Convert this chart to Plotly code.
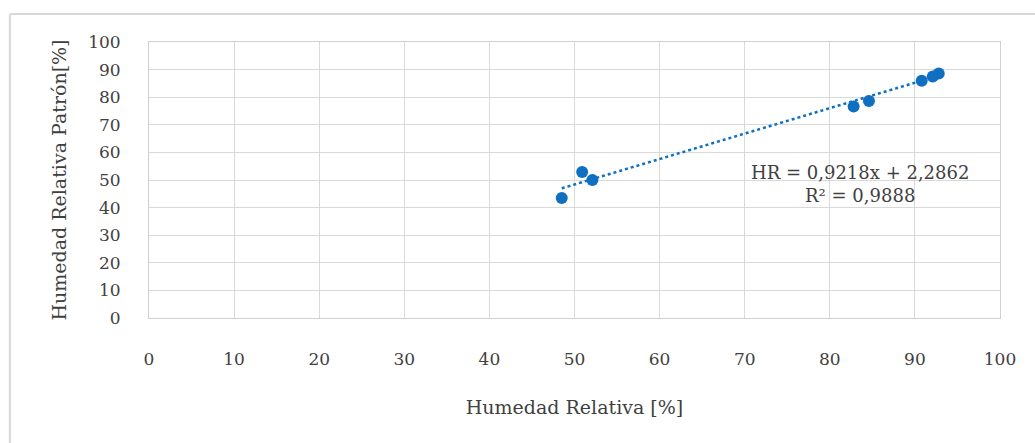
import plotly.graph_objects as go

x_hr = [48.5, 50.9, 52.1, 82.8, 84.6, 90.8, 92.1, 92.8]
y_patron = [43.5, 52.9, 50.0, 76.6, 78.6, 86.0, 87.5, 88.6]
slope = 0.9218
intercept = 2.2862
r2 = 0.9888
ticks = [0, 10, 20, 30, 40, 50, 60, 70, 80, 90, 100]

serif = "DejaVu Serif, serif"
blue = "#0f6fc0"
txt = "#3f3f3f"

fig = go.Figure()
xmin, xmax = min(x_hr), max(x_hr)
fig.add_trace(go.Scatter(
    x=[xmin, xmax], y=[slope * xmin + intercept, slope * xmax + intercept],
    mode="lines", line=dict(color=blue, width=2.5, dash="dot"),
    showlegend=False, hoverinfo="skip"))
fig.add_trace(go.Scatter(
    x=x_hr, y=y_patron, mode="markers",
    marker=dict(color=blue, size=12), showlegend=False))

fig.add_annotation(
    x=83.6, y=48.5, xref="x", yref="y",
    text=f"HR = {str(slope).replace('.', ',')}x + {str(intercept).replace('.', ',')}<br>R² = {str(r2).replace('.', ',')}",
    showarrow=False, font=dict(family=serif, size=18, color=txt),
    align="center")

axis_common = dict(
    range=[0, 100], tickvals=ticks, ticktext=[str(t) for t in ticks],
    showgrid=True, gridcolor="#d9d9d9", gridwidth=1,
    zeroline=False, showline=True, linecolor="#d0d0d0", linewidth=1,
    tickfont=dict(family=serif, size=17, color=txt),
    fixedrange=True,
)

fig.update_layout(
    width=1035, height=443,
    margin=dict(l=149, r=35, t=42, b=125),
    paper_bgcolor="white", plot_bgcolor="white",
    xaxis=dict(**axis_common, ticks="", ticklabelstandoff=26,
               title=dict(text="Humedad Relativa [%]", standoff=32,
                          font=dict(family=serif, size=19, color=txt)),
               mirror=True),
    yaxis=dict(**axis_common, ticks="", ticklabelstandoff=24,
               title=dict(text="Humedad Relativa Patrón[%]", standoff=16,
                          font=dict(family=serif, size=19, color=txt)),
               mirror=True),
    shapes=[
        dict(type="line", xref="paper", yref="paper", x0=-0.1635, x1=1.045, y0=1.101, y1=1.101,
             line=dict(color="#d8d8d8", width=2)),
        dict(type="line", xref="paper", yref="paper", x0=-0.1635, x1=-0.1635, y0=1.101, y1=-0.5,
             line=dict(color="#d8d8d8", width=2)),
    ],
)

fig.write_html("out.html")
